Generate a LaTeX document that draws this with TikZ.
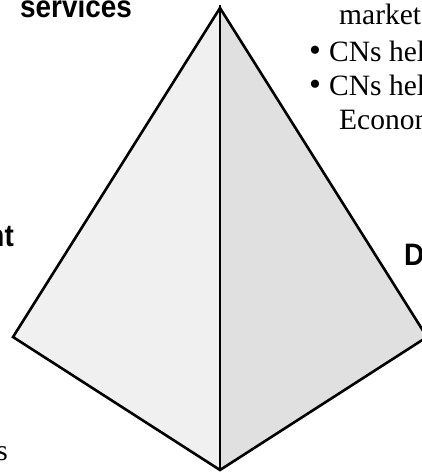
\documentclass[tikz,border=0pt]{standalone}
\usepackage{fontspec}
\newfontfamily\labelfont[FakeStretch=0.9]{Liberation Sans}
\newfontfamily\bodyfont{Liberation Serif}
\tikzset{
  facet/.style={draw=black, line width=2.6pt, line join=miter},
  leftface/.style={fill=black!6},
  rightface/.style={fill=black!12},
  corner/.style={font=\labelfont\bfseries\fontsize{31}{31}\selectfont, inner sep=0pt},
  bodytext/.style={font=\bodyfont\fontsize{29.5}{33}\selectfont, inner sep=0pt, anchor=base west},
  dot/.style={bodytext, font=\bodyfont\fontsize{34}{34}\selectfont},
}
\begin{document}
\begin{tikzpicture}[x=1pt,y=-1pt]
\clip (0,0) rectangle (422,472);
% corners of the pyramid
\coordinate (apex) at (220,8);
\coordinate (left) at (13,337);
\coordinate (bottom) at (220,470);
\coordinate (right) at (427,337);
\coordinate (top) at (220,5);
\fill[leftface] (apex)--(left)--(bottom)--cycle;
\fill[rightface] (apex)--(right)--(bottom)--cycle;
\draw[facet] (apex)--(left)--(bottom)--(right)--cycle;
\draw[line width=2pt] (top)--(bottom);
% corner labels
\node[corner, anchor=base west] (services) at (20,17) {services};
\node[corner, anchor=base east] (nt) at (14,246) {nt};
\node[corner, anchor=base west] (d) at (404,265) {D};
% text beside the pyramid
\node[bodytext] (market) at (339,24) {market};
\node[dot] (bulleta) at (309,61) {•};
\node[bodytext] (cnsa) at (329,61) {CNs hel};
\node[dot] (bulletb) at (309,95) {•};
\node[bodytext] (cnsb) at (329,95) {CNs hel};
\node[bodytext] (econ) at (339,129) {Econom};
\node[bodytext, anchor=base east] (s) at (8,460) {s};
\end{tikzpicture}
\end{document}
